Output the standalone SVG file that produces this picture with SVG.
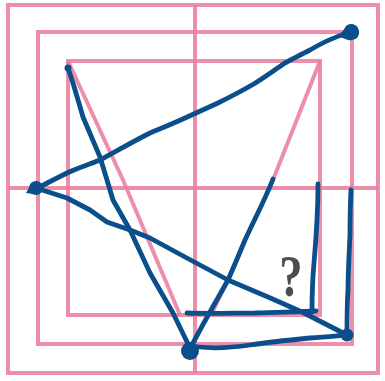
<svg xmlns="http://www.w3.org/2000/svg" width="385" height="381" viewBox="0 0 385 381">
<style>
.pk{fill:none;stroke:#e8809f;stroke-width:4;stroke-opacity:0.88}
.bl{fill:none;stroke:#0a4f8b;stroke-width:4.8;stroke-linecap:round;stroke-linejoin:round}
.dot{fill:#0a4f8b}
</style>
<rect width="385" height="381" fill="#ffffff"/>
<g id="grid">
<rect class="pk" x="8" y="5" width="370" height="368"/>
<rect class="pk" x="38" y="32" width="314" height="312"/>
<rect class="pk" x="68" y="61" width="252" height="254"/>
<line class="pk" x1="195" y1="5" x2="195" y2="373"/>
<line class="pk" x1="8" y1="188" x2="378" y2="188"/>
<polyline class="pk" points="68,61 123,180 180,315"/>
<polyline class="pk" points="320,61 273,180 245,240 228,280 212,313"/>
</g>
<g id="connectors">
<path class="bl" d="M350,33 C338,35 322,43 310,50 C300,55 293,59 285,63 C273,71 262,79 252,85 C240,92 230,97 218,103 C207,108 196,113 185,118 C172,124 162,128 150,133 C132,142 115,152 100,160 C88,165 77,168 67,173 C57,178 47,183 38,188"/>
<polyline class="bl" points="68,68 73,83 83,117 100,157 107,180 113,200 130,230 150,273 173,313 190,348"/>
<polyline class="bl" points="36,188 67,198 90,210 107,222 130,230 150,238 185,257 228,280 268,297 302,312 347,335"/>
<path class="bl" d="M190,346 C210,349 230,348 250,345 C270,342 290,340 310,338 C325,337 335,336 347,335"/>
<path class="bl" d="M192,345 C205,320 218,298 228,280 C236,262 240,252 245,240 C255,218 265,200 273,179"/>
<path class="bl" d="M318,184 C318,210 316,240 314,263 C312,285 312,300 312,312"/>
<path class="bl" d="M351,190 C350,210 350,225 350,235 C349,255 348,275 348,290 C347,305 347,320 347,333"/>
<path class="bl" d="M187,313 C210,314 235,313 255,313 C280,312 300,312 316,311"/>
</g>
<g id="node-top-right"><path class="dot" d="M338,36 C342,33 344,29 346,26 C350,22 358,24 359,31 C360,38 354,41 348,40 C344,39 341,37 338,36 Z"/></g>
<g id="node-left"><circle class="dot" cx="36" cy="188" r="7"/><path class="dot" d="M30,186 L26,193 L33,194 Z"/></g>
<g id="node-top-small"><circle class="dot" cx="68" cy="68" r="3.5"/></g>
<g id="node-bottom"><circle class="dot" cx="190" cy="351" r="9"/></g>
<g id="node-right"><circle class="dot" cx="347" cy="335" r="6.5"/></g>
<g id="label"><text x="0" y="0" transform="translate(291,296) scale(0.78,1)" text-anchor="middle" font-family="Liberation Serif, serif" font-weight="bold" font-size="60" fill="#4d4d4d">?</text></g>
</svg>
